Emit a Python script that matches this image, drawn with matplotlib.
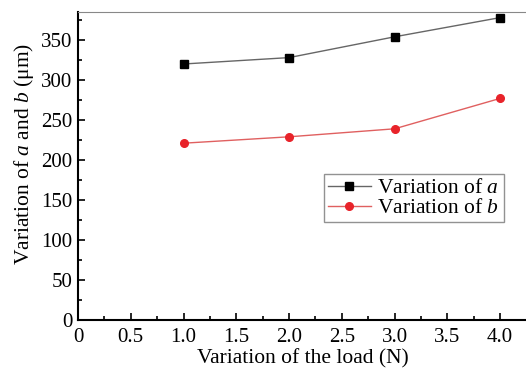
import matplotlib.pyplot as plt
from matplotlib.ticker import MultipleLocator

load = [1.0, 2.0, 3.0, 4.0]
var_a = [320, 328, 354, 378]
var_b = [221, 229, 239, 277]
xticks = [0, 0.5, 1.0, 1.5, 2.0, 2.5, 3.0, 3.5, 4.0]
xticklabels = ['0', '0.5', '1.0', '1.5', '2.0', '2.5', '3.0', '3.5', '4.0']
yticks = [0, 50, 100, 150, 200, 250, 300, 350]

plt.rcParams['font.family'] = ['Liberation Serif', 'DejaVu Serif']
plt.rcParams['mathtext.fontset'] = 'custom'
plt.rcParams['mathtext.it'] = 'Liberation Serif:italic'
plt.rcParams['mathtext.rm'] = 'Liberation Serif'

fig = plt.figure(figsize=(5.26, 3.71), dpi=100)
ax = fig.add_axes([78/526, 1-320/371, 1-78/526+0.005, (320-12)/371])

ax.plot(load, var_a, color='#666666', lw=1.0, marker='s', ms=5.5,
        mfc='black', mec='black', label='Variation of $a$')
ax.plot(load, var_b, color='#e06060', lw=1.0, marker='o', ms=5.5,
        mfc='#e8232a', mec='#e8232a', label='Variation of $b$')

ax.set_xlim(0, 4.27)
ax.set_ylim(0, 385)
ax.set_xticks(xticks)
ax.set_xticklabels(xticklabels)
ax.set_yticks(yticks)
ax.xaxis.set_minor_locator(MultipleLocator(0.25))
ax.yaxis.set_minor_locator(MultipleLocator(25))
ax.tick_params(which='both', direction='in', labelsize=15, width=1.2)
ax.tick_params(which='major', length=5)
ax.tick_params(which='minor', length=3)
ax.tick_params(axis='x', pad=6)
ax.tick_params(axis='y', pad=4)
for s in ['left', 'bottom']:
    ax.spines[s].set_linewidth(1.5)
for s in ['top', 'right']:
    ax.spines[s].set_color('#888888')

ax.set_xlabel('Variation of the load (N)', fontsize=15.5, labelpad=1)
ax.set_ylabel('Variation of $a$ and $b$ (μm)', fontsize=15.5)
ax.yaxis.set_label_coords(-0.093, 0.54)

leg = ax.legend(loc='upper left', bbox_to_anchor=(0.545, 0.475), fontsize=15.5,
                frameon=True, fancybox=False, edgecolor='#777777',
                handlelength=2.0, borderpad=0.2, labelspacing=0.0,
                handletextpad=0.3, borderaxespad=0)
leg.get_frame().set_linewidth(1.0)

fig.savefig('out.png', dpi=100)
